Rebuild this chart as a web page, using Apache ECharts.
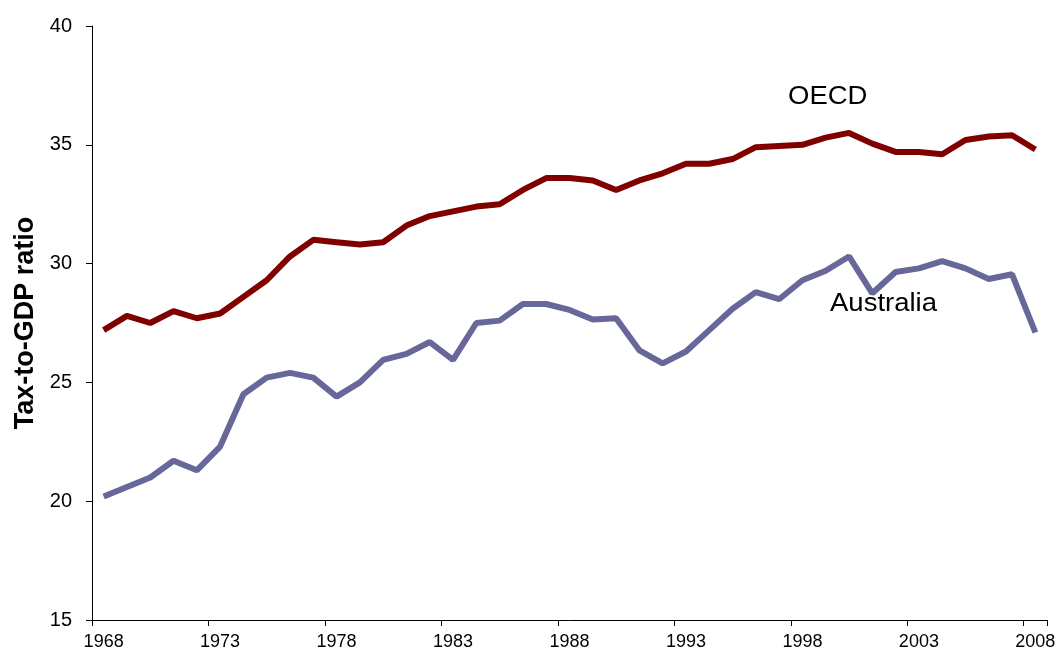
<!DOCTYPE html>
<html>
<head>
<meta charset="utf-8">
<script src="https://cdn.jsdelivr.net/npm/echarts@6/dist/echarts.min.js"></script>
<style>
  html, body { margin: 0; padding: 0; background: #fff; }
  #main { width: 1064px; height: 655px; }
</style>
</head>
<body>
<div id="main"></div>
<script>
var years = []
for (var y = 1968; y <= 2008; y++) years.push(String(y))

var oecd = [27.2, 27.8, 27.5, 28.0, 27.7, 27.9, 28.6, 29.3, 30.3, 31.0,
            30.9, 30.8, 30.9, 31.6, 32.0, 32.2, 32.4, 32.5, 33.1, 33.6,
            33.6, 33.5, 33.1, 33.5, 33.8, 34.2, 34.2, 34.4, 34.9, 34.95,
            35.0, 35.3, 35.5, 35.05, 34.7, 34.7, 34.6, 35.2, 35.35, 35.4,
            34.8]

var australia = [20.2, 20.6, 21.0, 21.7, 21.3, 22.3, 24.5, 25.2, 25.4, 25.2,
                 24.4, 25.0, 25.95, 26.2, 26.7, 25.95, 27.5, 27.6, 28.3, 28.3,
                 28.05, 27.65, 27.7, 26.35, 25.8, 26.3, 27.2, 28.1, 28.8, 28.5,
                 29.3, 29.7, 30.3, 28.75, 29.65, 29.8, 30.1, 29.8, 29.35, 29.55,
                 27.1]

var yTicks = { min: 15, max: 40, step: 5 }

var fontFam = "'Liberation Sans', Arial, sans-serif"

var chartDom = document.getElementById("main")
var myChart = echarts.init(chartDom)
var option = {
    animation: false,
    backgroundColor: "#fff",
    grid: { left: 92, right: 17, top: 26, bottom: 35 },
    xAxis: {
        type: "category",
        data: years,
        boundaryGap: true,
        axisLine: { lineStyle: { color: "#000", width: 1 } },
        axisTick: { show: true, interval: 4, length: 6, lineStyle: { color: "#000" } },
        axisLabel: { interval: 4, color: "#000", fontSize: 18, fontFamily: fontFam, margin: 13 },
        splitLine: { show: false }
    },
    yAxis: {
        type: "value",
        min: yTicks.min,
        max: yTicks.max,
        interval: yTicks.step,
        name: "Tax-to-GDP ratio",
        nameLocation: "middle",
        nameGap: 53,
        nameTextStyle: { color: "#000", fontSize: 27, fontWeight: "bold", fontFamily: fontFam },
        axisLine: { show: true, lineStyle: { color: "#000", width: 1 } },
        axisTick: { show: true, length: 6, lineStyle: { color: "#000" } },
        axisLabel: { color: "#000", fontSize: 20, fontFamily: fontFam, margin: 20 },
        splitLine: { show: false }
    },
    series: [
        {
            name: "OECD",
            type: "line",
            data: oecd,
            symbol: "none",
            lineStyle: { color: "#800000", width: 6 },
            itemStyle: { color: "#800000" }
        },
        {
            name: "Australia",
            type: "line",
            data: australia,
            symbol: "none",
            lineStyle: { color: "#676799", width: 6 },
            itemStyle: { color: "#676799" }
        }
    ],
    graphic: [
        {
            type: "text", left: 788, top: 85, scaleX: 1.1,
            style: { text: "OECD", fill: "#000", font: "25px " + fontFam }
        },
        {
            type: "text", left: 830, top: 292, scaleX: 1.1,
            style: { text: "Australia", fill: "#000", font: "25px " + fontFam }
        }
    ]
}
myChart.setOption(option)
</script>
</body>
</html>
